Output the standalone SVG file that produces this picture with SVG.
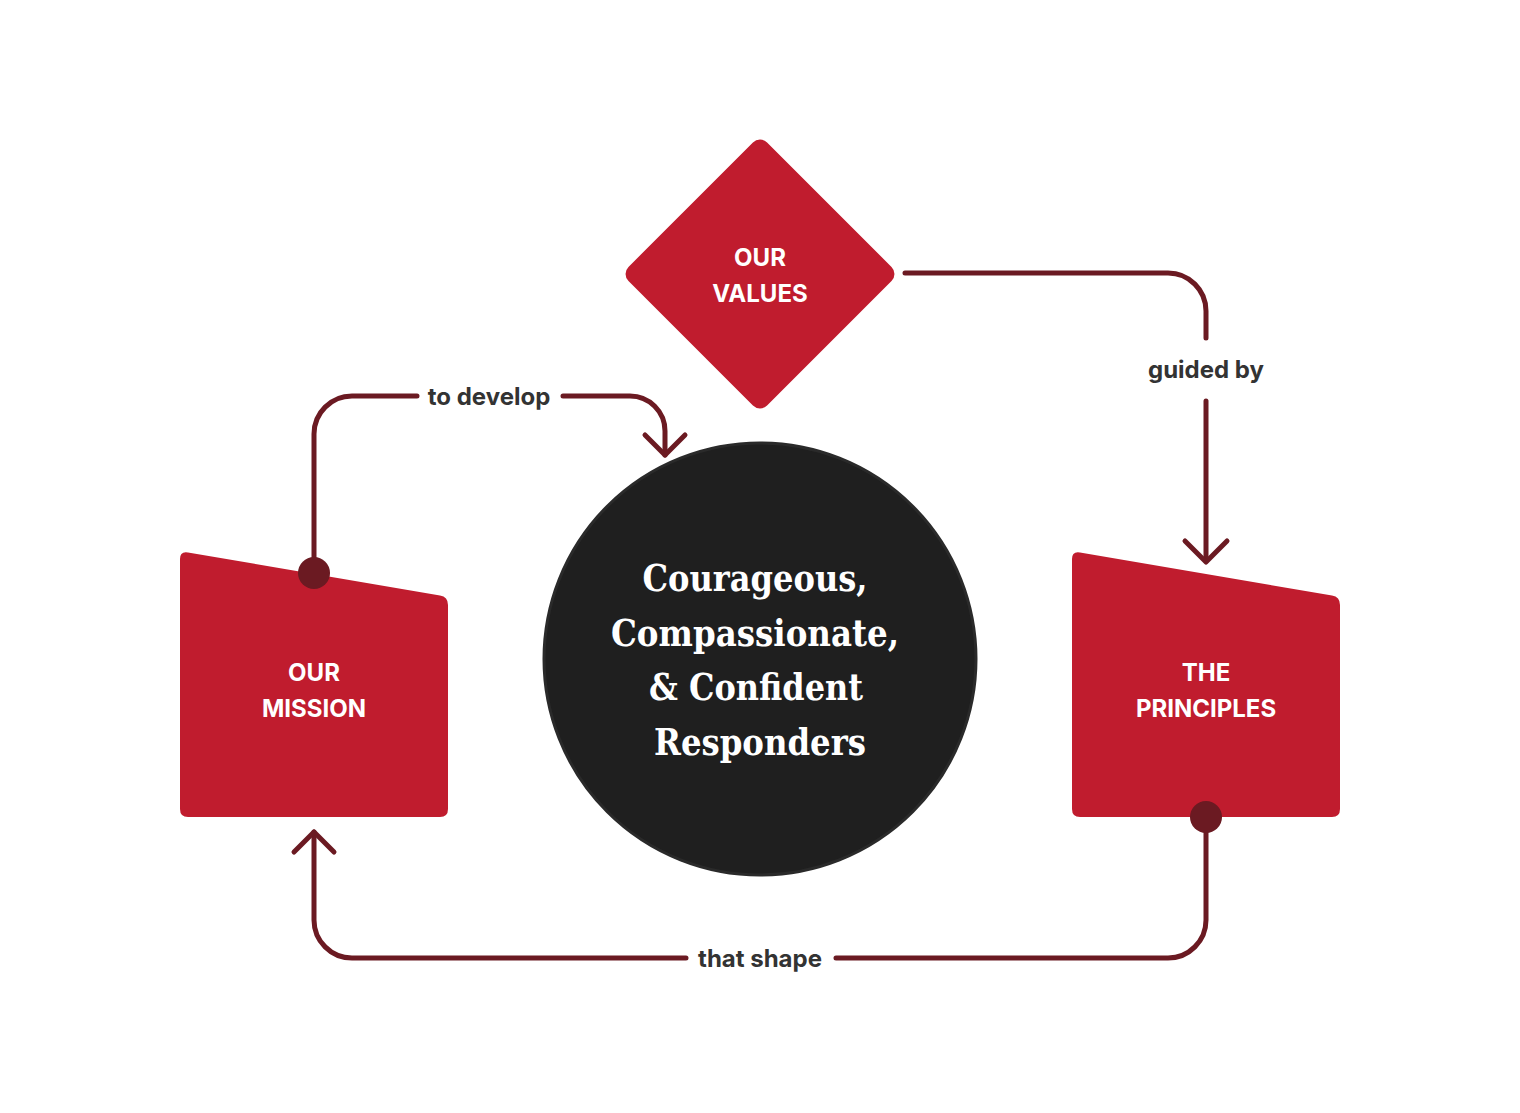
<svg xmlns="http://www.w3.org/2000/svg" width="1520" height="1113" viewBox="0 0 1520 1113">
  <style>
    .red { fill: #c01c2e; }
    .node-label { font-family: Inter, "Liberation Sans", sans-serif; font-weight: 700; font-size: 24px; fill: #ffffff; text-anchor: middle; }
    .edge-label { font-family: Inter, "Liberation Sans", sans-serif; font-weight: 700; font-size: 24px; fill: #333333; text-anchor: middle; }
    .conn { fill: none; stroke: #6b1a22; stroke-width: 5; stroke-linecap: round; stroke-linejoin: round; }
    .dot { fill: #6b1a22; }
    .big { font-family: "DejaVu Serif", "Liberation Serif", serif; font-weight: 700; font-size: 37px; fill: #ffffff; text-anchor: middle; }
  </style>
  <rect width="1520" height="1113" fill="#ffffff"/>

  <g id="connectors">
    <!-- values to principles -->
    <path class="conn" d="M 905 273 L 1168 273 A 38 38 0 0 1 1206 311 L 1206 338"/>
    <path class="conn" d="M 1206 401 L 1206 561"/>
    <path class="conn" d="M 1185 541 L 1206 562 L 1227 541"/>
    <!-- principles to mission -->
    <path class="conn" d="M 1206 817 L 1206 920 A 38 38 0 0 1 1168 958 L 836 958"/>
    <path class="conn" d="M 686 958 L 352 958 A 38 38 0 0 1 314 920 L 314 832"/>
    <path class="conn" d="M 294 852 L 314 832 L 334 852"/>
    <!-- mission to center -->
    <path class="conn" d="M 314 573 L 314 434 A 38 38 0 0 1 352 396 L 417 396"/>
    <path class="conn" d="M 563 396 L 630 396 A 35 35 0 0 1 665 431 L 665 455"/>
    <path class="conn" d="M 645 435 L 665 455 L 685 435"/>
    <text class="edge-label" x="489" y="405">to develop</text>
    <text class="edge-label" x="1206" y="378">guided by</text>
    <text class="edge-label" x="760" y="967">that shape</text>
  </g>

  <g id="values">
    <rect class="red" x="662" y="176" width="196" height="196" rx="10" transform="rotate(45 760 274)"/>
    <text class="node-label" x="760" y="266">OUR</text>
    <text class="node-label" x="760" y="302">VALUES</text>
  </g>

  <g id="mission">
    <path class="red" d="M 180 559 Q 180 551 188 552.4 L 440 595.6 Q 448 597 448 605 L 448 809 Q 448 817 440 817 L 188 817 Q 180 817 180 809 Z"/>
    <circle class="dot" cx="314" cy="573" r="16"/>
    <text class="node-label" x="314" y="681">OUR</text>
    <text class="node-label" x="314" y="717">MISSION</text>
  </g>

  <g id="principles">
    <path class="red" d="M 1072 559 Q 1072 551 1080 552.4 L 1332 595.6 Q 1340 597 1340 605 L 1340 809 Q 1340 817 1332 817 L 1080 817 Q 1072 817 1072 809 Z"/>
    <circle class="dot" cx="1206" cy="817" r="16"/>
    <text class="node-label" x="1206" y="681">THE</text>
    <text class="node-label" x="1206" y="717">PRINCIPLES</text>
  </g>

  <g id="responders">
    <circle cx="760" cy="659" r="216" fill="#1f1f1f" stroke="#2a2a2a" stroke-width="3"/>
    <text class="big" x="755" y="591" textLength="225" lengthAdjust="spacingAndGlyphs">Courageous,</text>
    <text class="big" x="755" y="646" textLength="288" lengthAdjust="spacingAndGlyphs">Compassionate,</text>
    <text class="big" x="756" y="700" textLength="214" lengthAdjust="spacingAndGlyphs">&amp; Confident</text>
    <text class="big" x="760" y="755" textLength="212" lengthAdjust="spacingAndGlyphs">Responders</text>
  </g>
</svg>
